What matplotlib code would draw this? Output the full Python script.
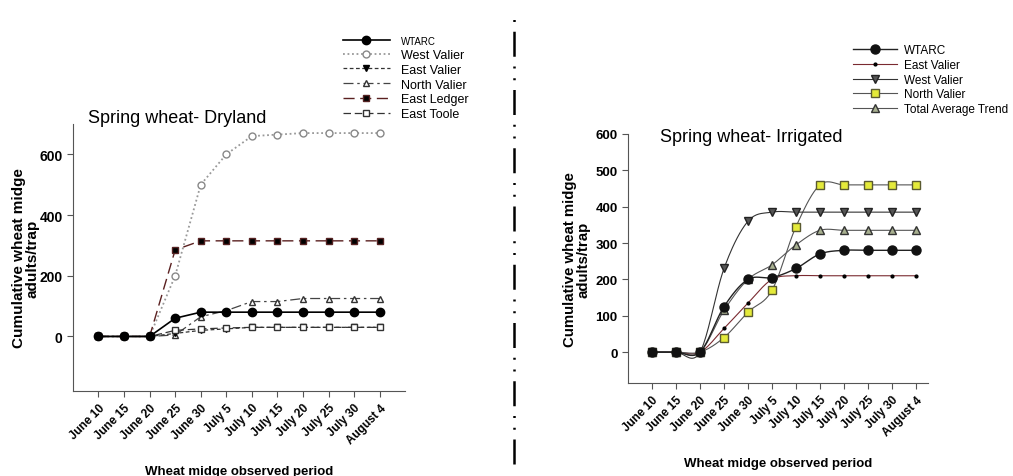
import numpy as np
import matplotlib
matplotlib.use('Agg')
import matplotlib.pyplot as plt
from matplotlib.lines import Line2D

plt.rcParams['font.family'] = ['Liberation Sans', 'DejaVu Sans']

periodos = ['June 10', 'June 15', 'June 20', 'June 25', 'June 30', 'July 5',
            'July 10', 'July 15', 'July 20', 'July 25', 'July 30', 'August 4']

# Dryland
seco_wtarc = [0, 0, 0, 60, 80, 80, 80, 80, 80, 80, 80, 80]
seco_west_valier = [0, 0, 0, 200, 500, 600, 660, 665, 670, 670, 670, 670]
seco_east_valier = [0, 0, 0, 10, 20, 25, 30, 30, 30, 30, 30, 30]
seco_north_valier = [0, 0, 0, 5, 65, 85, 115, 115, 125, 125, 125, 125]
seco_east_ledger = [0, 0, 0, 285, 315, 315, 315, 315, 315, 315, 315, 315]
seco_east_toole = [0, 0, 0, 20, 25, 28, 30, 30, 30, 30, 30, 30]

# Irrigated
irr_wtarc = [0, 0, 0, 125, 200, 205, 230, 270, 280, 280, 280, 280]
irr_east_valier = [0, 0, 0, 65, 135, 200, 210, 210, 210, 210, 210, 210]
irr_west_valier = [0, 0, 0, 230, 360, 385, 385, 385, 385, 385, 385, 385]
irr_north_valier = [0, 0, 0, 40, 110, 170, 345, 460, 460, 460, 460, 460]
irr_total = [0, 0, 0, 115, 200, 240, 295, 335, 335, 335, 335, 335]


def suavizar(x, y, n=20):
    """Curva Catmull-Rom passando pelos pontos (apenas para desenhar a linha)"""
    x = np.asarray(x, float)
    y = np.asarray(y, float)
    px = np.concatenate([[2 * x[0] - x[1]], x, [2 * x[-1] - x[-2]]])
    py = np.concatenate([[y[0]], y, [y[-1]]])
    xs, ys = [], []
    t = np.linspace(0, 1, n, endpoint=False)
    for i in range(1, len(px) - 2):
        for p, out in ((px, xs), (py, ys)):
            p0, p1, p2, p3 = p[i - 1], p[i], p[i + 1], p[i + 2]
            out.extend(0.5 * ((2 * p1) + (-p0 + p2) * t
                              + (2 * p0 - 5 * p1 + 4 * p2 - p3) * t ** 2
                              + (-p0 + 3 * p1 - 3 * p2 + p3) * t ** 3))
    xs.append(x[-1])
    ys.append(y[-1])
    return np.array(xs), np.array(ys)


def estilo_eixo(ax, tam_y):
    ax.spines['top'].set_visible(False)
    ax.spines['right'].set_visible(False)
    ax.spines['left'].set_color('#555555')
    ax.spines['bottom'].set_color('#555555')
    ax.set_xticks(range(len(periodos)))
    ax.set_xticklabels(periodos, rotation=45, ha='right', rotation_mode='anchor',
                       fontsize=8.5, fontweight='bold')
    ax.tick_params(axis='both', direction='out', length=4, color='#555555')
    ax.tick_params(axis='y', labelsize=tam_y)
    for lab in ax.get_yticklabels():
        lab.set_fontweight('bold')
    ax.set_xlabel('Wheat midge observed period', fontsize=9.5, fontweight='bold',
                  labelpad=14)


fig = plt.figure(figsize=(10.13, 4.77), dpi=100)
x = np.arange(len(periodos))

# ---- Dryland ----
ax1 = fig.add_axes([0.072, 0.178, 0.328, 0.560])
ax1.plot(x, seco_west_valier, color='#999999', linestyle=(0, (1, 1.5)), linewidth=1.3,
         marker='o', markersize=5, markerfacecolor='white', markeredgecolor='#888888',
         label='West Valier', zorder=3)
ax1.plot(x, seco_east_ledger, color='#5a2020', linestyle=(0, (8, 4)), linewidth=1,
         marker='s', markersize=5, markerfacecolor='black', markeredgecolor='#552222',
         label='East Ledger', zorder=3)
ax1.plot(x, seco_north_valier, color='#444444', linestyle=(0, (8, 3, 2, 3)), linewidth=0.9,
         marker='^', markersize=5, markerfacecolor='white', markeredgecolor='#333333',
         label='North Valier', zorder=3)
ax1.plot(x, seco_east_valier, color='#333333', linestyle=(0, (3, 2)), linewidth=0.9,
         marker='v', markersize=5, markerfacecolor='black', markeredgecolor='black',
         label='East Valier', zorder=3)
ax1.plot(x, seco_east_toole, color='#333333', linestyle=(0, (6, 3)), linewidth=0.9,
         marker='s', markersize=5, markerfacecolor='white', markeredgecolor='#333333',
         label='East Toole', zorder=3)
ax1.plot(x, seco_wtarc, color='black', linewidth=1.2,
         marker='o', markersize=6, markerfacecolor='black', markeredgecolor='black',
         label='WTARC', zorder=4)
ax1.set_xlim(-1, 12)
ax1.set_ylim(-180, 700)
ax1.set_yticks([0, 200, 400, 600])
estilo_eixo(ax1, 10)
ax1.set_ylabel('Cumulative wheat midge\nadults/trap', fontsize=11, fontweight='bold',
               linespacing=0.95)
ax1.yaxis.set_label_coords(-0.10, 0.5)
ax1.text(0.045, 1.007, 'Spring wheat- Dryland', transform=ax1.transAxes, fontsize=13,
         va='baseline', ha='left')

handles1, labels1 = ax1.get_legend_handles_labels()
ordem1 = ['WTARC', 'West Valier', 'East Valier', 'North Valier', 'East Ledger', 'East Toole']
h1 = [handles1[labels1.index(n)] for n in ordem1]
leg1 = fig.legend(h1, ordem1, loc='upper left', bbox_to_anchor=(0.327, 0.947),
                  frameon=False, fontsize=9, handlelength=3.8, labelspacing=0.22,
                  handletextpad=0.9)
leg1.get_texts()[0].set_fontsize(7)

# ---- Irrigated ----
ax2 = fig.add_axes([0.620, 0.195, 0.296, 0.522])
series_irr = [
    (irr_east_valier, dict(color='#7a2a30', linewidth=0.8, marker='o', markersize=2,
                           markerfacecolor='black', markeredgecolor='black'), 'East Valier'),
    (irr_north_valier, dict(color='#555555', linewidth=0.8, marker='s', markersize=6,
                            markerfacecolor='#e4ea3a', markeredgecolor='#5a5a30'), 'North Valier'),
    (irr_total, dict(color='#555555', linewidth=0.8, marker='^', markersize=6,
                     markerfacecolor='#a8b090', markeredgecolor='#333333'), 'Total Average Trend'),
    (irr_west_valier, dict(color='#333333', linewidth=0.8, marker='v', markersize=6,
                           markerfacecolor='#555555', markeredgecolor='#222222'), 'West Valier'),
    (irr_wtarc, dict(color='#222222', linewidth=1.0, marker='o', markersize=6.5,
                     markerfacecolor='#111111', markeredgecolor='#111111'), 'WTARC'),
]
handles2 = {}
for dados, kw, nome in series_irr:
    xs, ys = suavizar(x, dados)
    ax2.plot(xs, ys, color=kw['color'], linewidth=kw['linewidth'], zorder=2)
    ax2.plot(x, dados, linestyle='none', marker=kw['marker'], markersize=kw['markersize'],
             markerfacecolor=kw['markerfacecolor'], markeredgecolor=kw['markeredgecolor'],
             zorder=3)
    handles2[nome] = Line2D([], [], **kw)
ax2.set_xlim(-1, 11.5)
ax2.set_ylim(-85, 600)
ax2.set_yticks([0, 100, 200, 300, 400, 500, 600])
estilo_eixo(ax2, 9.5)
ax2.set_ylabel('Cumulative wheat midge\nadults/trap', fontsize=10.8, fontweight='bold',
               linespacing=0.95)
ax2.yaxis.set_label_coords(-0.125, 0.5)
ax2.text(0.107, 0.972, 'Spring wheat- Irrigated', transform=ax2.transAxes, fontsize=13,
         va='baseline', ha='left')

ordem2 = ['WTARC', 'East Valier', 'West Valier', 'North Valier', 'Total Average Trend']
fig.legend([handles2[n] for n in ordem2], ordem2, loc='upper left',
           bbox_to_anchor=(0.832, 0.927), frameon=False, fontsize=8.5,
           handlelength=3.7, labelspacing=0.22, handletextpad=0.6)

# divisória traço-ponto-ponto
fig.add_artist(Line2D([0.507, 0.507], [0.025, 0.975], transform=fig.transFigure,
                      color='black', linewidth=1.8, linestyle=(0, (10, 3.9, 0.8, 3.9, 0.8, 3.9))))

fig.savefig('out.png', dpi=100)
